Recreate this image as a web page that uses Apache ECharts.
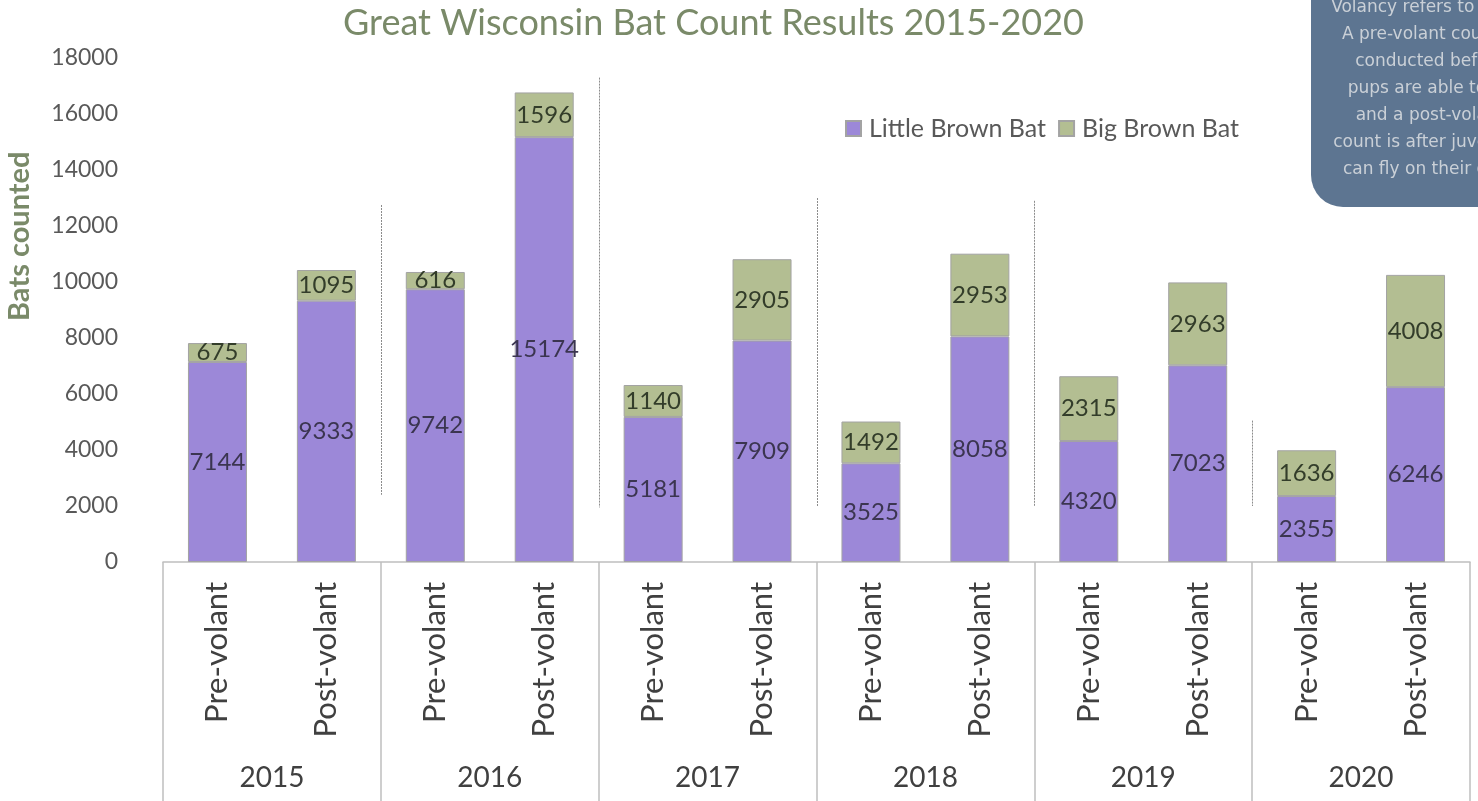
<!DOCTYPE html>
<html>
<head>
<meta charset="utf-8">
<title>Great Wisconsin Bat Count Results 2015-2020</title>
<script src="https://cdn.jsdelivr.net/npm/echarts@6/dist/echarts.min.js"></script>
<style>
  html, body { margin: 0; padding: 0; background: #fff; }
  #chart { width: 1478px; height: 801px; }
</style>
</head>
<body>
<div id="chart"></div>
<script>
  // 数据
  var countTypes = ['Pre-volant', 'Post-volant', 'Pre-volant', 'Post-volant', 'Pre-volant', 'Post-volant',
    'Pre-volant', 'Post-volant', 'Pre-volant', 'Post-volant', 'Pre-volant', 'Post-volant'];
  var years = ['2015', '2016', '2017', '2018', '2019', '2020'];
  var littleBrown = [7144, 9333, 9742, 15174, 5181, 7909, 3525, 8058, 4320, 7023, 2355, 6246];
  var bigBrown = [675, 1095, 616, 1596, 1140, 2905, 1492, 2953, 2315, 2963, 1636, 4008];
  var yTicks = [0, 18000, 2000]; // min, max, interval
  // dotted separators between years: [boundary index, top value, bottom value]
  var separators = [[2, 12750, 2400], [4, 17300, 1950], [6, 13000, 2000], [8, 12900, 2000], [10, 5050, 2000]];
  var noteLines = ['Volancy refers to flight.', 'A pre-volant count is', 'conducted before',
    'pups are able to fly', 'and a post-volant', 'count is after juveniles', 'can fly on their own.'];

  var font = 'Lato, "Open Sans", sans-serif';
  var purple = '#9c88d8';
  var green = '#b3be92';

  var myChart = echarts.init(document.getElementById('chart'));

  var option = {
    backgroundColor: '#fff',
    title: {
      text: 'Great Wisconsin Bat Count Results 2015-2020',
      left: 338,
      top: 0,
      textStyle: {color: '#7a8a69', fontFamily: font, fontSize: 36, fontWeight: 'normal'}
    },
    legend: {
      left: 840,
      top: 111,
      itemWidth: 15,
      itemHeight: 15,
      itemGap: 12,
      icon: 'rect',
      textStyle: {color: '#595959', fontFamily: font, fontSize: 25, padding: [0, 0, 0, 3]},
      data: ['Little Brown Bat', 'Big Brown Bat']
    },
    grid: {left: 163, right: 8, top: 58, bottom: 239},
    xAxis: [
      {
        type: 'category',
        data: countTypes,
        axisLine: {lineStyle: {color: '#bfbfbf', width: 1.5}},
        axisTick: {show: false},
        axisLabel: {rotate: 90, margin: 20, color: '#404040', fontFamily: font, fontSize: 31}
      },
      {
        type: 'category',
        data: years,
        position: 'bottom',
        axisLine: {show: false},
        axisTick: {show: true, length: 260, lineStyle: {color: '#bfbfbf', width: 1.5}},
        axisLabel: {margin: 202, color: '#404040', fontFamily: font, fontSize: 28}
      }
    ],
    yAxis: {
      type: 'value',
      min: yTicks[0],
      max: yTicks[1],
      interval: yTicks[2],
      axisLine: {show: false},
      axisTick: {show: false},
      splitLine: {show: false},
      axisLabel: {
        margin: 45, color: '#595959', fontFamily: font, fontSize: 23,
        formatter: function (v) { return String(v); }
      }
    },
    series: [
      {
        name: 'Little Brown Bat',
        type: 'bar',
        stack: 'bats',
        barWidth: 59,
        data: littleBrown,
        itemStyle: {color: purple, borderColor: '#a3a3a3', borderWidth: 1},
        label: {show: true, position: 'inside', color: '#3b3550', fontFamily: font, fontSize: 24}
      },
      {
        name: 'Big Brown Bat',
        type: 'bar',
        stack: 'bats',
        barWidth: 59,
        data: bigBrown,
        itemStyle: {color: green, borderColor: '#a3a3a3', borderWidth: 1},
        label: {show: true, position: 'inside', color: '#333d2a', fontFamily: font, fontSize: 24}
      }
    ]
  };
  myChart.setOption(option);

  // 装饰：轴名、虚线、说明框
  var graphics = [];
  graphics.push({
    type: 'text', x: 5, y: 321, rotation: Math.PI / 2,
    style: {text: 'Bats counted', fill: '#7a8a69', font: 'bold 29px ' + font, textAlign: 'left', textVerticalAlign: 'top'}
  });
  separators.forEach(function (s) {
    var a = myChart.convertToPixel({gridIndex: 0}, [s[0] - 1, s[1]]);
    var b = myChart.convertToPixel({gridIndex: 0}, [s[0], s[2]]);
    var x = Math.round((a[0] + b[0]) / 2) + 0.5;
    graphics.push({
      type: 'line',
      shape: {x1: x, y1: a[1], x2: x, y2: b[1]},
      style: {stroke: '#8c8c8c', lineWidth: 1, lineDash: [2, 1]}
    });
  });
  graphics.push({
    type: 'rect',
    shape: {x: 1311, y: -40, width: 240, height: 247, r: 32},
    style: {fill: '#5d7591'}
  });
  noteLines.forEach(function (t, i) {
    graphics.push({
      type: 'text', x: 1430, y: 8 + i * 27,
      style: {text: t, fill: '#cad0d7', font: '17px "DejaVu Sans", sans-serif', textAlign: 'center', textVerticalAlign: 'middle'}
    });
  });
  myChart.setOption({graphic: graphics});
</script>
</body>
</html>
